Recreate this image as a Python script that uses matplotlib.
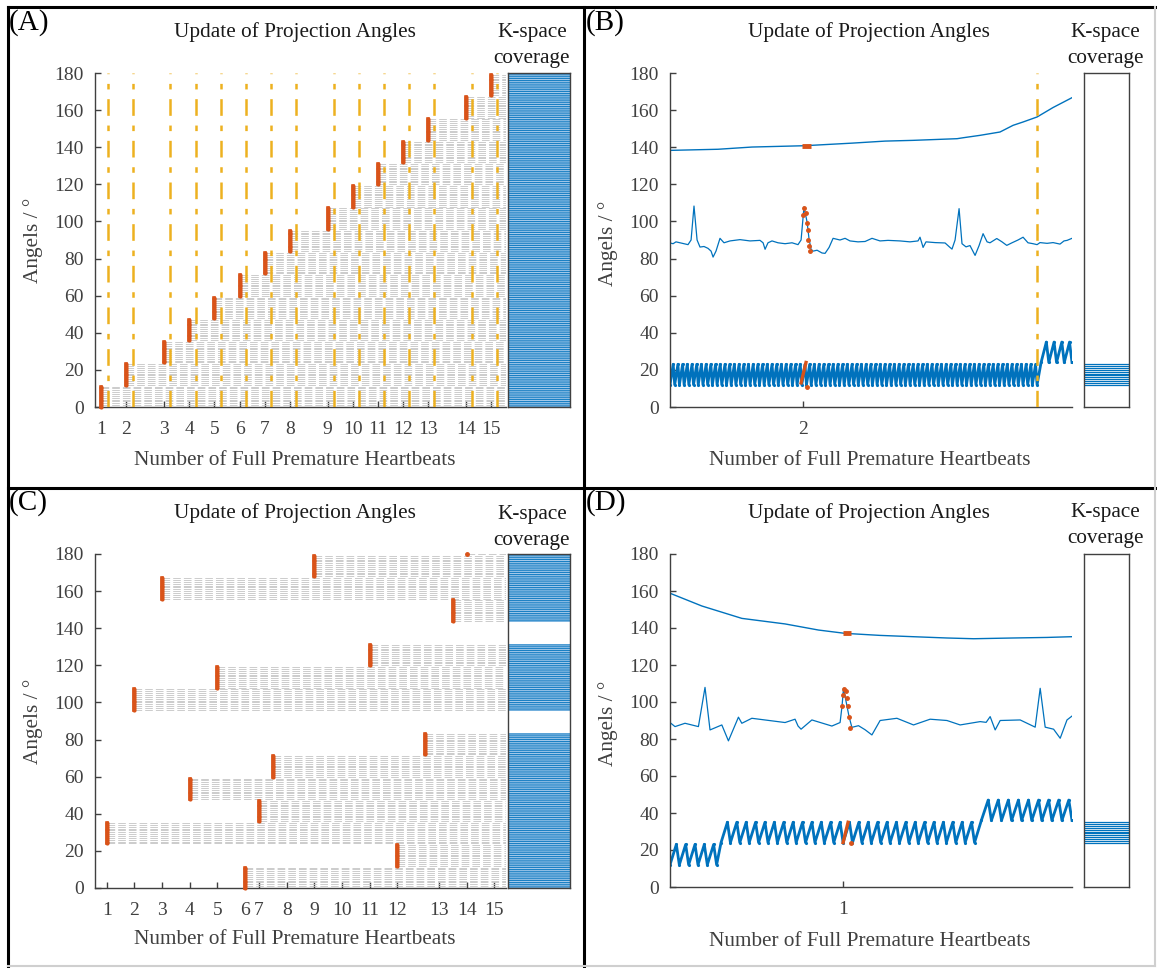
import numpy as np
import matplotlib.pyplot as plt
from matplotlib.lines import Line2D

plt.rcParams['font.family'] = ['Liberation Serif', 'DejaVu Serif']
plt.rcParams['lines.scale_dashes'] = False

BLUE, RED, YEL = '#0072BD', '#D95319', '#EDB120'
GREY, AXC = '#c4c4c4', '#404040'
LIGHTBLUE = '#a3c9ea'

# ---------------- panel A: angle bands updated in order
a_beats = [0, 2, 5, 7, 9, 11, 13, 15, 18, 20, 22, 24, 26, 29, 31]
a_bands = [0, 1, 2, 3, 4, 5, 6, 7, 8, 9, 10, 11, 12, 13, 14]
a_labels = [str(i) for i in range(1, 16)]
a_end = 32.7

# ---------------- panel C: angle bands updated in shuffled order
c_beats = [0, 2, 4, 6, 8, 10, 11, 12, 15, 19, 21, 23, 25]
c_bands = [2, 8, 13, 4, 9, 0, 3, 5, 14, 10, 1, 6, 12]
c_tick_beats = [0, 2, 4, 6, 8, 10, 11, 13, 15, 17, 19, 21, 24, 26, 28]
c_labels = [str(i) for i in range(1, 16)]
c_dot_beat, c_dot_angle = 26, 180
c_end = 29.7

# ---------------- panel B: zoom around 2nd premature beat (time in ms)
b_ecg_t = [0, 20, 39, 65, 91, 117, 137, 156, 176, 195, 221, 247, 267, 280, 299, 325, 351, 390, 455, 520,
           585, 605, 618, 637, 663, 702, 748, 793, 832, 852, 871, 891, 904, 917, 930, 956, 988, 1008, 1034, 1060,
           1105, 1138, 1170, 1222, 1268, 1313, 1365, 1417, 1495, 1560, 1612, 1625, 1638, 1645, 1664, 1723, 1788,
           1820, 1833, 1853, 1879, 1898, 1924, 1950, 1983, 2009, 2035, 2061, 2080, 2124, 2158, 2189, 2223, 2262,
           2295, 2327, 2360, 2386, 2405, 2451, 2490, 2535, 2561, 2581, 2613]
b_ecg_a = [88.4, 88.0, 89.0, 88.5, 88.0, 87.5, 90.0, 108.3, 90.0, 86.2, 86.5, 85.5, 84.0, 80.8, 84.0, 90.9,
           88.5, 89.5, 90.2, 89.5, 89.8, 88.5, 85.0, 88.5, 89.5, 88.5, 88.0, 88.5, 87.5, 90.0, 107.8, 99.7, 90.4,
           85.0, 84.0, 84.5, 83.0, 82.8, 86.0, 90.9, 90.0, 90.9, 89.5, 89.0, 89.2, 90.9, 89.5, 89.8, 89.5, 89.0,
           89.5, 91.5, 88.0, 86.0, 89.0, 88.6, 88.4, 86.0, 85.1, 90.0, 106.9, 88.0, 86.3, 87.0, 81.7, 87.0, 93.4,
           89.0, 88.5, 90.8, 89.0, 87.1, 88.5, 90.0, 91.5, 88.5, 88.0, 87.5, 88.6, 88.2, 88.6, 87.8, 89.5, 89.8,
           90.9]
b_ecg_red_t = [866, 873, 882, 889, 895, 897, 904, 910]
b_ecg_red_a = [103.3, 107.5, 104.6, 99.2, 95.2, 90.2, 86.6, 84.1]
b_resp_t = [0, 312, 533, 871, 1183, 1398, 1580, 1866, 1905, 2015, 2145, 2230, 2295, 2386, 2490, 2613]
b_resp_a = [138.3, 138.9, 140.1, 140.8, 142.2, 143.3, 143.7, 144.6, 145.1, 146.4, 148.2, 151.8, 153.6,
            156.3, 161.4, 166.7]
b_resp_red = (856, 917, 140.8)
# angle sweeps: (start, end, lowest angle, highest angle, number of sweeps)
b_sweeps = [(0, 2386, 12, 23, 78), (2412, 2613, 24, 35, 4)]
b_red_sweep = ([852, 884], [13, 24])
b_red_dot = (891, 11)
b_trigger = 2386
b_tick, b_tick_label = 866, '2'
b_kspace = list(range(12, 24))
b_end = 2613

# ---------------- panel D: zoom around 1st premature beat (time in ms)
d_ecg_t = [0, 25, 75, 142, 175, 200, 259, 292, 342, 359, 409, 575, 625, 640, 655, 709, 809, 850, 860, 867,
           895, 909, 942, 975, 1009, 1050, 1134, 1217, 1300, 1384, 1450, 1550, 1580, 1600, 1625, 1650, 1750,
           1825, 1850, 1875, 1917, 1950, 1984, 2009]
d_ecg_a = [88.9, 86.7, 88.5, 86.7, 107.9, 84.9, 87.6, 79.0, 91.8, 88.5, 91.2, 88.9, 90.7, 87.0, 85.3, 90.3,
           87.0, 88.9, 98.0, 107.4, 92.0, 86.3, 87.2, 85.0, 82.2, 90.0, 91.2, 87.6, 90.7, 90.0, 87.6, 89.4, 89.0,
           92.1, 84.9, 90.0, 90.3, 86.4, 107.4, 86.4, 85.3, 80.4, 90.3, 92.4]
d_ecg_red_t = [862, 867, 872, 879, 884, 892, 895, 900]
d_ecg_red_a = [97.9, 103.8, 106.9, 106.2, 102.1, 97.9, 92.1, 85.9]
d_resp_t = [0, 159, 359, 575, 742, 875, 1050, 1215, 1384, 1517, 1715, 1884, 2009]
d_resp_a = [158.8, 151.9, 145.2, 142.2, 138.9, 137.1, 136.0, 135.3, 134.6, 134.2, 134.6, 134.9, 135.3]
d_resp_red = (865, 905, 137.1)
d_sweeps = [(0, 233, 12, 23, 5), (255, 1522, 24, 35, 27), (1556, 2009, 36, 47, 9)]
d_red_sweep = ([865, 890], [24, 35])
d_red_dot = (903, 24)
d_tick, d_tick_label = 866, '1'
d_kspace = list(range(24, 36))
d_end = 2009

W, H = 1157, 968
fig = plt.figure(figsize=(W / 100, H / 100), dpi=100)


def rect(x0, y0, x1, y1):
    return [x0 / W, 1 - y1 / H, (x1 - x0) / W, (y1 - y0) / H]


def ftext(x, y, s, **kw):
    kw.setdefault('fontsize', 15.3)
    kw.setdefault('color', '#262626')
    fig.text(x / W, 1 - y / H, s, ha=kw.pop('ha', 'center'), va=kw.pop('va', 'center'), **kw)


def style_axis(ax):
    ax.set_ylim(0, 180)
    ax.set_yticks(range(0, 181, 20))
    for s in ['top', 'right']:
        ax.spines[s].set_visible(False)
    for s in ['left', 'bottom']:
        ax.spines[s].set_color(AXC)
        ax.spines[s].set_linewidth(1.0)
    ax.tick_params(direction='in', length=4, width=1, color=AXC, labelcolor=AXC, labelsize=14)
    ax.tick_params(axis='x', pad=10)
    ax.tick_params(axis='y', pad=8)


def kspace_axis(r, angles, fill=False):
    ax = fig.add_axes(r)
    if fill:
        ax.barh(angles, 1, height=1.0, left=0, color=LIGHTBLUE, linewidth=0)
        ax.hlines(angles, 0, 1, colors=BLUE, lw=0.6, snap=False)
    else:
        ax.hlines(angles, 0, 1, colors=BLUE, lw=0.9)
    ax.set_xlim(0, 1)
    ax.set_ylim(0, 180)
    ax.set_xticks([])
    ax.set_yticks([])
    for s in ax.spines.values():
        s.set_color(AXC)
        s.set_linewidth(1.0)
    return ax


def beat_panel(r, kr, beats, bands, offset, end, tick_beats, labels, orange, extra=None):
    ax = fig.add_axes(r)
    covered = []
    for bt, bd in zip(beats, bands):
        x = bt + offset
        ang = 12 * bd + np.arange(12)
        covered.extend(ang)
        ax.hlines(ang, x, end, colors=GREY, lw=0.6, linestyles=(0, (5.5, 2.2)), zorder=3)
        ax.plot([x] * len(ang), ang, '.-', color=RED, lw=2.6, ms=4, zorder=5, clip_on=False)
        if orange:
            ax.axvline(bt + 1, color=YEL, lw=1.8, linestyle=(0, (12, 7, 4, 7)), zorder=4)
    if extra is not None:
        ex, ey = extra[0] + offset, extra[1]
        covered.append(ey)
        ax.hlines([ey], ex, end, colors=GREY, lw=0.6, linestyles=(0, (5.5, 2.2)), zorder=3)
        ax.plot([ex], [ey], '.', color=RED, ms=5, zorder=5, clip_on=False)
    ax.set_xlim(0, end)
    style_axis(ax)
    ax.set_xticks([b + offset for b in tick_beats])
    ax.set_xticklabels(labels)
    kspace_axis(kr, sorted(set(covered)), fill=True)


def sweep_line(sweeps, f=0.68):
    # each sweep rises from the lowest to the highest angle, then jumps back
    tt, aa = [], []
    for t0, t1, lo, hi, n in sweeps:
        T = (t1 - t0) / n
        for k in range(n):
            tt += [t0 + k * T, t0 + (k + f) * T]
            aa += [lo, hi]
        tt.append(t1)
        aa.append(lo)
    return tt, aa


def zoom_panel(r, kr, ecg_t, ecg_a, red_t, red_a, resp_t, resp_a, resp_red, sweeps, red_sweep, red_dot,
               tick, tick_label, kspace, end, trigger=None):
    ax = fig.add_axes(r)
    ax.plot(resp_t, resp_a, color=BLUE, lw=1.0)
    ax.plot([resp_red[0], resp_red[1]], [resp_red[2]] * 2, color=RED, lw=3.5, solid_capstyle='butt')
    ax.plot(ecg_t, ecg_a, color=BLUE, lw=0.9)
    ax.plot(red_t, red_a, '.', color=RED, ms=5)
    st, sa = sweep_line(sweeps)
    ax.plot(st, sa, '.-', color=BLUE, lw=2.0, ms=2.5)
    ax.plot(red_sweep[0], red_sweep[1], '-', color=RED, lw=2.4)
    ax.plot([red_dot[0]], [red_dot[1]], '.', color=RED, ms=5)
    if trigger is not None:
        ax.axvline(trigger, color=YEL, lw=1.8, linestyle=(0, (12, 7, 4, 7)), zorder=4)
    ax.set_xlim(0, end)
    style_axis(ax)
    ax.set_xticks([tick])
    ax.set_xticklabels([tick_label])
    kspace_axis(kr, kspace)


beat_panel(rect(95, 73, 506, 407), rect(508, 73, 570, 407), a_beats, a_bands, 0.5, a_end,
           a_beats, a_labels, True)
beat_panel(rect(95, 554, 506, 888), rect(508, 554, 570, 888), c_beats, c_bands, 0.85, c_end,
           c_tick_beats, c_labels, False, extra=(c_dot_beat, c_dot_angle))
zoom_panel(rect(670, 73, 1072, 407), rect(1084, 73, 1129, 407), b_ecg_t, b_ecg_a, b_ecg_red_t, b_ecg_red_a,
           b_resp_t, b_resp_a, b_resp_red, b_sweeps, b_red_sweep, b_red_dot, b_tick, b_tick_label,
           b_kspace, b_end, trigger=b_trigger)
zoom_panel(rect(670, 554, 1072, 887), rect(1084, 554, 1129, 887), d_ecg_t, d_ecg_a, d_ecg_red_t, d_ecg_red_a,
           d_resp_t, d_resp_a, d_resp_red, d_sweeps, d_red_sweep, d_red_dot, d_tick, d_tick_label,
           d_kspace, d_end)

# texts
for (tx, ty), (kx, ky), (lx, ly), (yx, yy), (px, py), lab in [
        ((295, 32), (532, 33), (295, 460), (33, 240), (9, 23), '(A)'),
        ((869, 32), (1105, 33), (870, 460), (608, 243), (586, 23), '(B)'),
        ((295, 513), (532, 514), (295, 940), (33, 721), (9, 503), '(C)'),
        ((869, 513), (1105, 513), (870, 941), (608, 723), (586, 503), '(D)')]:
    ftext(tx, ty, 'Update of Projection Angles', color='#1a1a1a')
    ftext(kx, ky, 'K-space', color='#1a1a1a')
    ftext(kx, ky + 26, 'coverage', color='#1a1a1a')
    ftext(lx, ly, 'Number of Full Premature Heartbeats', color=AXC)
    ftext(yx, yy, 'Angels / \u00b0', color=AXC, rotation=90)
    ftext(px, py, lab, ha='left', fontsize=21, color='black')


# panel borders
def fline(x0, y0, x1, y1, **kw):
    fig.add_artist(Line2D([x0 / W, x1 / W], [1 - y0 / H, 1 - y1 / H], transform=fig.transFigure, **kw))


fline(8, 7, 8, 966, color='black', lw=2.2)
fline(8, 7, 1155, 7, color='black', lw=2.2)
fline(583.5, 7, 583.5, 966, color='black', lw=2.2)
fline(8, 488, 1155, 488, color='black', lw=2.2)
fline(1155, 7, 1155, 966, color='#cfcfcf', lw=1.5)
fline(8, 966, 1155, 966, color='#cfcfcf', lw=1.5)

fig.savefig('out.png', dpi=100)
